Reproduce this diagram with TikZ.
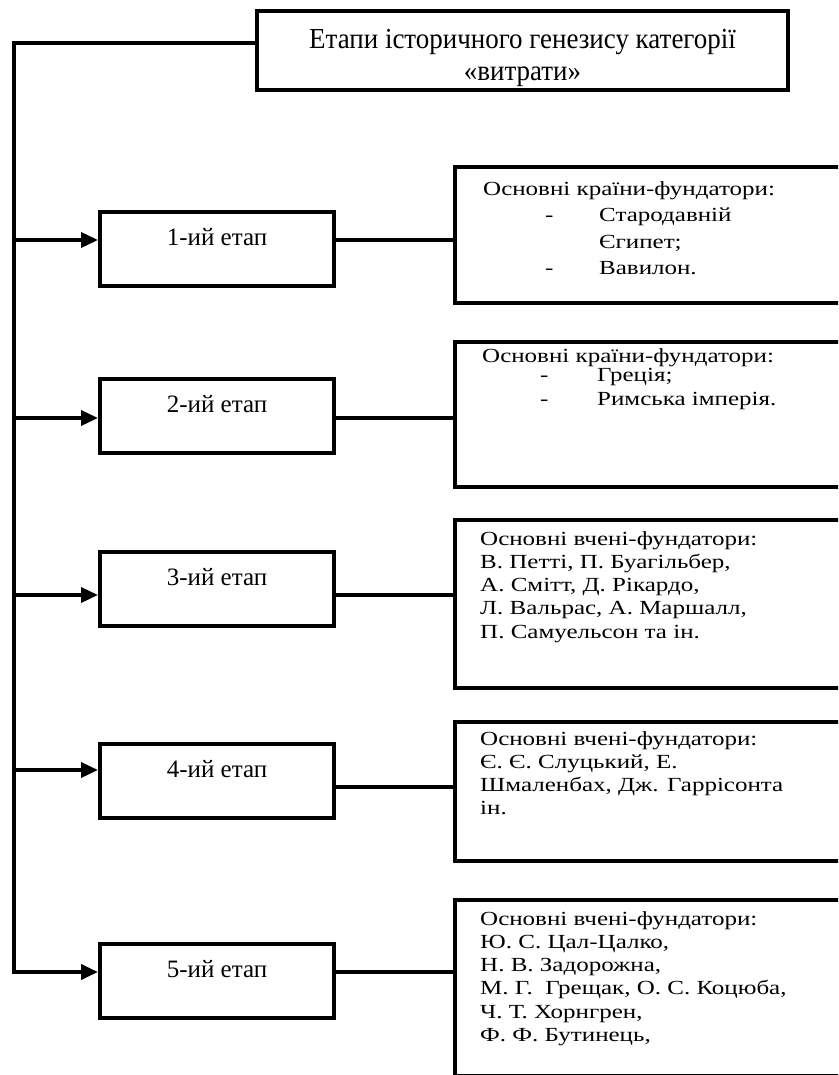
\documentclass[tikz,border=0pt]{standalone}
\usepackage{fontspec}
\setmainfont{Liberation Serif}
\newfontfamily\widefont[FakeStretch=1.25]{Liberation Serif}
\newfontfamily\narrowfont[FakeStretch=0.93]{Liberation Serif}
\usetikzlibrary{arrows.meta}

\begin{document}
\begin{tikzpicture}[x=1pt,y=-1pt,
  wire/.style={line width=4pt},
  arr/.style={line width=3.5pt,-{Triangle[length=17pt,width=15pt]}},
  stagebox/.style={draw,line width=4pt,anchor=north,minimum width=234pt,
    inner sep=5pt,text height=28pt,text depth=36pt,font=\fontsize{25}{30}\selectfont},
  infobox/.style={draw,line width=4pt,anchor=north west,minimum width=420pt},
  infotext/.style={anchor=north west,inner sep=0pt,align=left,
    font=\widefont\fontsize{20}{23.3}\selectfont}]
\useasboundingbox (0,0) rectangle (838,1075);
\clip (0,0) rectangle (838,1075);

\node[draw,line width=4pt,minimum width=531pt,minimum height=71pt,align=center,
  font=\narrowfont\fontsize{29}{32}\selectfont] (title) at (522.5,50.5)
  {\rule{0pt}{34pt}Етапи історичного генезису категорії\\«витрати»};

\node[stagebox] (s1) at (217,210) {1-ий етап};
\node[stagebox] (s2) at (217,377) {2-ий етап};
\node[stagebox] (s3) at (217,550) {3-ий етап};
\node[stagebox] (s4) at (217,742) {4-ий етап};
\node[stagebox] (s5) at (217,942) {5-ий етап};

\node[infobox,minimum height=136pt] (i1) at (453,165) {};
\node[infobox,minimum height=145pt] (i2) at (453,340) {};
\node[infobox,minimum height=168pt] (i3) at (453,518) {};
\node[infobox,minimum height=139pt] (i4) at (453,720) {};
\node[infobox,minimum height=176pt] (i5) at (453,898) {};

\node[infotext,font=\widefont\fontsize{20}{26.5}\selectfont] (t1) at (483,181)
  {Основні країни-фундатори:\\
   \makebox[116pt][l]{\hspace*{62pt}-}Стародавній\\
   \hspace*{116pt}Єгипет;\\
   \makebox[116pt][l]{\hspace*{62pt}-}Вавилон.};
\node[infotext] (t2) at (482,348)
  {Основні країни-фундатори:\\[-4pt]
   \makebox[115pt][l]{\hspace*{58pt}-}Греція;\\[0.5pt]
   \makebox[115pt][l]{\hspace*{58pt}-}Римська імперія.};
\node[infotext] (t3) at (480,531)
  {Основні вчені-фундатори:\\
   В. Петті, П. Буагільбер,\\
   А. Смітт, Д. Рікардо,\\
   Л. Вальрас, А. Маршалл,\\
   П. Самуельсон та ін.};
\node[infotext] (t4) at (480,731)
  {Основні вчені-фундатори:\\
   Є. Є. Слуцький, Е.\\
   Шмаленбах, Дж. Гаррісонта\\
   ін.};
\node[infotext] (t5) at (480,911)
  {Основні вчені-фундатори:\\
   Ю. С. Цал-Цалко,\\
   Н. В. Задорожна,\\
   М. Г.\ \ Грещак, О. С. Коцюба,\\
   Ч. Т. Хорнгрен,\\
   Ф. Ф. Бутинець,};

\coordinate (t0) at (13.5,43);
\coordinate (a1) at (13.5,240);
\coordinate (a2) at (13.5,418);
\coordinate (a3) at (13.5,595);
\coordinate (a4) at (13.5,770);
\coordinate (a5) at (13.5,972);
\coordinate (c4) at (13.5,787);

\draw[wire,-{Triangle[length=17pt,width=15pt]}]
  (title.west |- t0) -- (t0) -- (a5) -- (a5 -| s5.west);
\draw[arr] (a1) -- (a1 -| s1.west);
\draw[arr] (a2) -- (a2 -| s2.west);
\draw[arr] (a3) -- (a3 -| s3.west);
\draw[arr] (a4) -- (a4 -| s4.west);

\draw[wire] (a1 -| s1.east) -- (a1 -| i1.west);
\draw[wire] (a2 -| s2.east) -- (a2 -| i2.west);
\draw[wire] (a3 -| s3.east) -- (a3 -| i3.west);
\draw[wire] (c4 -| s4.east) -- (c4 -| i4.west);
\draw[wire] (a5 -| s5.east) -- (a5 -| i5.west);
\end{tikzpicture}
\end{document}
